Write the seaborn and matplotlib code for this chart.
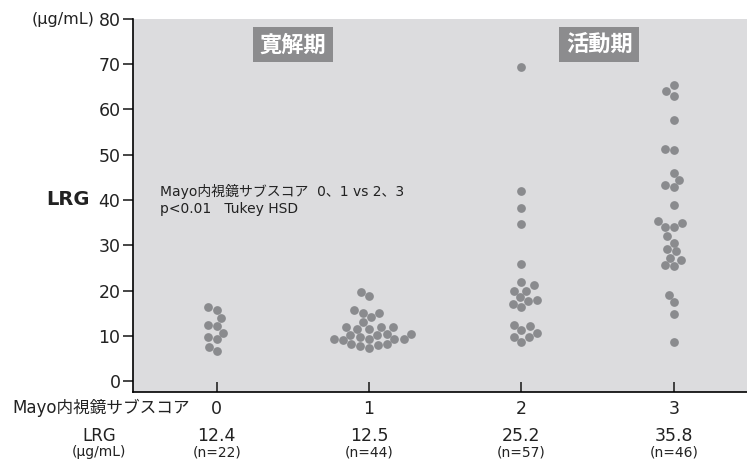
import pandas as pd
import seaborn as sns
import matplotlib.pyplot as plt

# LRG values (μg/mL) per Mayo endoscopic subscore
score0 = [13.9, 15.8, 16.4, 12.2, 12.3, 10.7, 9.2, 9.8, 7.5, 6.6]
score1 = [19.7, 18.8, 15.1, 15.1, 15.7, 14.2, 13.1, 11.6, 11.9, 11.6, 12.0, 12.0,
          10.2, 9.8, 10.5, 9.4, 8.3, 10.5, 9.4, 8.3, 10.2, 9.0, 9.4, 9.4, 7.7, 8.0, 7.4]
score2 = [69.3, 42.0, 38.2, 34.8, 25.9, 21.9, 21.2, 20.0, 20.0, 17.7, 18.6, 17.0,
          17.9, 16.4, 12.4, 12.2, 11.3, 10.7, 9.8, 9.7, 8.7]
score3 = [63.0, 64.1, 65.3, 57.7, 51.0, 51.3, 46.0, 43.2, 44.4, 42.8, 38.8, 35.4,
          34.0, 35.0, 34.1, 32.0, 30.6, 29.2, 28.7, 26.7, 27.2, 25.6, 25.4, 19.0,
          17.4, 14.9, 8.7]

scores = ['0', '1', '2', '3']
means = ['12.4', '12.5', '25.2', '35.8']
counts = [22, 44, 57, 46]
y_ticks = [0, 10, 20, 30, 40, 50, 60, 70, 80]

rows = []
for s, vals in zip(scores, [score0, score1, score2, score3]):
    for v in vals:
        rows.append({'score': s, 'lrg': v})
df = pd.DataFrame(rows)

sns.set_style('white')
plt.rcParams['font.family'] = ['DejaVu Sans', 'Noto Sans CJK JP']
plt.rcParams['text.color'] = '#222222'

fig = plt.figure(figsize=(7.47, 4.59), dpi=100)
ax = fig.add_axes([0.178, 0.146, 0.83, 0.813])
ax.set_facecolor('#dcdcde')

sns.swarmplot(data=df, x='score', y='lrg', order=scores, color='#8a8b8e',
              size=6.3, linewidth=0, ax=ax)

ax.set_xlim(-0.55, 3.52)
ax.set_ylim(-2.4, 80)
ax.set_yticks(y_ticks)
ax.set_xlabel('')
ax.set_ylabel('')
for side in ['top', 'right']:
    ax.spines[side].set_visible(False)
for side in ['left', 'bottom']:
    ax.spines[side].set_color('black')
    ax.spines[side].set_linewidth(1.2)
ax.tick_params(axis='y', direction='out', length=7, width=1.2, labelsize=12.5,
               left=True, pad=2, labelcolor='#222222')
ax.tick_params(axis='x', direction='in', length=7, width=1.2, labelsize=12.5,
               bottom=True, pad=6, labelcolor='#222222')

# unit and axis title
fig.text(0.085, 0.958, '(μg/mL)', fontsize=11.5, ha='center', va='center')
fig.text(0.091, 0.565, 'LRG', fontsize=14, fontweight='bold', ha='center', va='center')

# group headers
box = dict(boxstyle='square,pad=0.3', fc='#8c8c8e', ec='none')
ax.text(0.5, 74.3, '寛解期', fontsize=16, fontweight='bold', color='white',
        ha='center', va='center', bbox=box)
ax.text(2.51, 74.3, '活動期', fontsize=16, fontweight='bold', color='white',
        ha='center', va='center', bbox=box)

# stats note
ax.text(-0.37, 40, 'Mayo内視鏡サブスコア  0、1 vs 2、3\np<0.01   Tukey HSD',
        fontsize=10, ha='left', va='center', linespacing=1.3)

# bottom table
tr = ax.get_xaxis_transform()
fig.text(0.135, 0.111, 'Mayo内視鏡サブスコア', fontsize=12, ha='center', va='center')
fig.text(0.133, 0.05, 'LRG', fontsize=12, ha='center', va='center')
fig.text(0.133, 0.015, '(μg/mL)', fontsize=10, ha='center', va='center')
for i, (m, n) in enumerate(zip(means, counts)):
    ax.text(i, -0.118, m, transform=tr, fontsize=12.5, ha='center', va='center')
    ax.text(i, -0.162, f'(n={n})', transform=tr, fontsize=10, ha='center', va='center')

plt.savefig('out.png', dpi=100)
